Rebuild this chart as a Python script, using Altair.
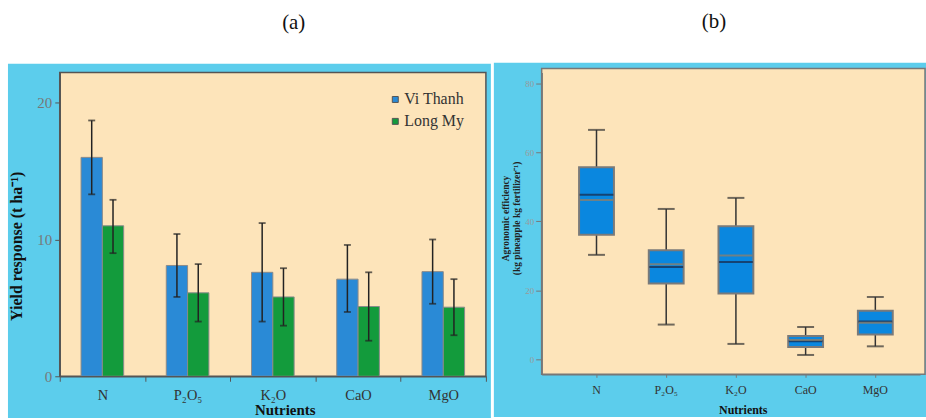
import altair as alt
import pandas as pd

# ---------------- data ----------------
nutrients = ["N", "P₂O₅", "K₂O", "CaO", "MgO"]
sites = ["Vi Thanh", "Long My"]

vi_thanh = [16.0, 8.1, 7.6, 7.1, 7.65]
vi_thanh_lo = [13.3, 5.8, 4.0, 4.7, 5.3]
vi_thanh_hi = [18.7, 10.4, 11.2, 9.6, 10.0]

long_my = [11.0, 6.1, 5.8, 5.1, 5.05]
long_my_lo = [9.0, 4.0, 3.7, 2.6, 3.0]
long_my_hi = [12.9, 8.2, 7.9, 7.6, 7.1]

ae_min = [30.3, 10.1, 4.5, 1.3, 3.8]
ae_q1 = [36.1, 22.0, 19.1, 3.6, 7.2]
ae_median = [47.7, 26.8, 28.2, 5.3, 11.0]
ae_mean = [46.2, 27.6, 30.1, 5.6, 10.6]
ae_q3 = [55.7, 31.6, 38.6, 6.8, 14.1]
ae_max = [66.5, 43.6, 46.8, 9.4, 18.1]

# ---------------- tables ----------------
rows = []
for i, n in enumerate(nutrients):
    rows.append({"nutrient": n, "site": sites[0], "value": vi_thanh[i], "lo": vi_thanh_lo[i], "hi": vi_thanh_hi[i]})
    rows.append({"nutrient": n, "site": sites[1], "value": long_my[i], "lo": long_my_lo[i], "hi": long_my_hi[i]})
bars_df = pd.DataFrame(rows)

box_df = pd.DataFrame({
    "nutrient": nutrients, "min": ae_min, "q1": ae_q1, "median": ae_median,
    "mean": ae_mean, "q3": ae_q3, "max": ae_max,
})

one = pd.DataFrame({"label": ["(a)"]})
one_b = pd.DataFrame({"label": ["(b)"]})

SERIF = "Liberation Serif"
PANEL = "#5CCDEC"
BEIGE = "#FDE4BA"
FRAME = "#555555"

W1, H1 = 428, 305
W2, H2 = 380, 303

# ---------------- panel (a) ----------------
xa = alt.X("nutrient:N", sort=nutrients,
           scale=alt.Scale(domain=nutrients, paddingInner=0, paddingOuter=0),
           axis=alt.Axis(title="Nutrients", labelAngle=0, tickBand="extent",
                         labelFont=SERIF, labelFontSize=14.5, labelColor="#333333",
                         labelPadding=7, tickSize=5, tickColor=FRAME, domainColor=FRAME,
                         domainWidth=1.5, titleFont=SERIF, titleFontSize=15,
                         titleFontWeight="bold", titleColor="#111111",
                         titleX=226, titleY=26, titleBaseline="top", zindex=1))
xo = alt.XOffset("site:N", sort=sites,
                 scale=alt.Scale(domain=sites, paddingOuter=1, paddingInner=0))
ya_scale = alt.Scale(domain=[0, 22.2], nice=False, zero=True)
ya_axis = alt.Axis(title="Yield response (t ha⁻¹)", values=[0, 10, 20], grid=False,
                   labelFont=SERIF, labelFontSize=15, labelColor="#777777",
                   labelPadding=3, tickSize=5, tickColor=FRAME, domainColor=FRAME,
                   domainWidth=1.5, titleFont=SERIF, titleFontSize=16,
                   titleFontWeight="bold", titleColor="#111111",
                   titleX=-43, titleY=174, titleBaseline="middle", titleAngle=-90,
                   titleAlign="center", zindex=1)

bg_a = alt.Chart(one).mark_rect(fill=PANEL).encode(
    x=alt.value(-52), x2=alt.value(433), y=alt.value(-9), y2=alt.value(347))
plot_a = alt.Chart(one).mark_rect(fill=BEIGE, stroke=FRAME, strokeWidth=1.5).encode(
    x=alt.value(0), x2=alt.value(W1), y=alt.value(0), y2=alt.value(H1))
title_a = alt.Chart(one).mark_text(font=SERIF, fontSize=21, color="#111111",
                                   baseline="middle").encode(
    x=alt.value(235), y=alt.value(-50), text="label:N")

bars = alt.Chart(bars_df).mark_bar(stroke="#8a8a8a", strokeWidth=1).encode(
    x=xa, xOffset=xo,
    y=alt.Y("value:Q", scale=ya_scale, axis=ya_axis),
    color=alt.Color("site:N", sort=sites,
                    scale=alt.Scale(domain=sites, range=["#2A8AD6", "#139B3C"]),
                    legend=alt.Legend(title=None, orient="none", legendX=329, legendY=19,
                                      symbolType="square", symbolSize=36,
                                      symbolStrokeColor="#555555", symbolStrokeWidth=1,
                                      labelFont=SERIF, labelFontSize=16,
                                      labelColor="#333333", labelOffset=1,
                                      rowPadding=6, zindex=1)),
)
err = alt.Chart(bars_df).mark_rule(color="#222222", strokeWidth=1.5).encode(
    x=alt.X("nutrient:N", sort=nutrients), xOffset=alt.XOffset("site:N", sort=sites),
    y="lo:Q", y2="hi:Q")
cap_hi = alt.Chart(bars_df).mark_tick(color="#222222", size=7, thickness=1.8).encode(
    x=alt.X("nutrient:N", sort=nutrients), xOffset=alt.XOffset("site:N", sort=sites),
    y="hi:Q")
cap_lo = alt.Chart(bars_df).mark_tick(color="#222222", size=7, thickness=1.8).encode(
    x=alt.X("nutrient:N", sort=nutrients), xOffset=alt.XOffset("site:N", sort=sites),
    y="lo:Q")

panel_a = alt.layer(bg_a, plot_a, title_a, bars, err, cap_hi, cap_lo).properties(
    width=W1, height=H1)

# ---------------- panel (b) ----------------
xb = alt.X("nutrient:N", sort=nutrients,
           scale=alt.Scale(domain=nutrients, paddingInner=0, paddingOuter=0.214, align=0.67),
           axis=alt.Axis(title="Nutrients", labelAngle=0,
                         labelFont=SERIF, labelFontSize=12, labelColor="#333333",
                         labelPadding=7, tickSize=3, tickColor="#777777",
                         domainColor="#777777", domainWidth=1.5,
                         titleFont=SERIF, titleFontSize=12, titleFontWeight="bold",
                         titleColor="#111111", titleX=202, titleY=30,
                         titleBaseline="top", zindex=1))
yb_scale = alt.Scale(domain=[-4.3, 83.1], nice=False, zero=False)
yb_axis = alt.Axis(title=["Agronomic efficiency", "(kg pineapple kg fertilizer⁻¹)"],
                   values=[0, 20, 40, 60, 80], grid=False,
                   labelFont=SERIF, labelFontSize=9, labelColor="#9a9a9a",
                   labelPadding=2, tickSize=6, tickColor="#777777",
                   domainColor="#777777", domainWidth=1.5,
                   titleFont=SERIF, titleFontSize=9.5, titleFontWeight="bold",
                   titleColor="#222222", titleX=-36, titleY=146,
                   titleBaseline="middle", titleAngle=-90, titleAlign="center",
                   titleLineHeight=11, zindex=1)

bg_b = alt.Chart(one_b).mark_rect(fill=PANEL).encode(
    x=alt.value(-48), x2=alt.value(386), y=alt.value(-10), y2=alt.value(346))
plot_b = alt.Chart(one_b).mark_rect(fill=BEIGE, stroke="#777777", strokeWidth=1.5).encode(
    x=alt.value(0), x2=alt.value(385), y=alt.value(-4), y2=alt.value(H2))
title_b = alt.Chart(one_b).mark_text(font=SERIF, fontSize=21, color="#111111",
                                     baseline="middle").encode(
    x=alt.value(173), y=alt.value(-51), text="label:N")

base_b = alt.Chart(box_df)
whisk = base_b.mark_rule(color="#333333", strokeWidth=1.5).encode(
    x=xb, y=alt.Y("min:Q", scale=yb_scale, axis=yb_axis), y2="max:Q")
wcap_hi = base_b.mark_tick(color="#333333", size=17, thickness=2).encode(
    x=alt.X("nutrient:N", sort=nutrients), y="max:Q")
wcap_lo = base_b.mark_tick(color="#333333", size=17, thickness=2).encode(
    x=alt.X("nutrient:N", sort=nutrients), y="min:Q")
box = base_b.mark_bar(size=35, color="#0A87DF", stroke="#7a7a7a", strokeWidth=2).encode(
    x=alt.X("nutrient:N", sort=nutrients), y="q1:Q", y2="q3:Q")
med = base_b.mark_tick(color="#1A2745", size=34, thickness=2).encode(
    x=alt.X("nutrient:N", sort=nutrients), y="median:Q")
mean = base_b.mark_tick(color="#9a7f5f", size=33, thickness=2, strokeDash=[2, 3.5]).encode(
    x=alt.X("nutrient:N", sort=nutrients), y="mean:Q")

panel_b = alt.layer(bg_b, plot_b, title_b, whisk, wcap_hi, wcap_lo, box, med, mean).properties(
    width=W2, height=H2)

chart = alt.hconcat(panel_a, panel_b, spacing=3).resolve_scale(
    x="independent", y="independent", color="independent"
).properties(
    padding={"left": 8, "top": 10, "right": 0, "bottom": 0},
    background="white",
).configure_view(stroke=None, fill=None)

chart.save("out.html", embed_options={"renderer": "svg", "actions": False})
